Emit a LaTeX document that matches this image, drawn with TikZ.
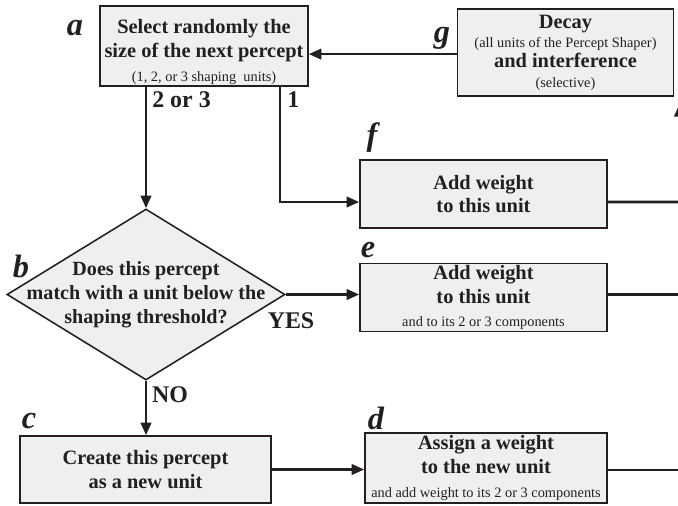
\documentclass[tikz,border=0pt]{standalone}
\usepackage{fontspec}
\setmainfont{Liberation Serif}
\usetikzlibrary{shapes.geometric,arrows.meta,positioning}
\definecolor{boxfill}{RGB}{238,239,241}
\definecolor{ink}{RGB}{35,31,32}
\newcommand{\smalltxt}[1]{{\mdseries\fontsize{10.2}{11}\selectfont #1}}

\begin{document}
\begin{tikzpicture}[x=0.025cm, y=-0.025cm, color=ink,
	box/.style={draw, line width=1.1pt, fill=boxfill, align=center, inner sep=1pt, font=\bfseries\fontsize{14.5}{17}\selectfont},
	decision/.style={diamond, draw, line width=1.1pt, fill=boxfill, align=center, aspect=1.61, inner xsep=-30pt, inner ysep=-5pt, minimum width=6.95cm, minimum height=4.275cm, font=\bfseries\fontsize{14.3}{17}\selectfont},
	letter/.style={font=\bfseries\itshape\fontsize{23}{23}\selectfont, inner sep=0pt},
	tag/.style={font=\bfseries\fontsize{17}{17}\selectfont, inner sep=0pt},
	arr/.style={line width=1.8pt, -{Triangle[length=9pt,width=7.5pt]}},
	wire/.style={line width=1.8pt}]
	\clip (0,0) rectangle (678,506);
	% boxes
	\node[box, minimum width=5.2cm, minimum height=2cm] (a) at (204,46) {\rule{0pt}{18pt}Select randomly the\\size of the next percept\\\smalltxt{(1, 2, or 3 shaping\ \ units)}};
	\node[box, minimum width=5.4cm, minimum height=2.175cm, font=\bfseries\fontsize{14.5}{14}\selectfont] (g) at (565.5,52.5) {Decay\\\smalltxt{(all units of the Percept Shaper)}\\and interference\\\smalltxt{(selective)}};
	\node[box, minimum width=6.175cm, minimum height=1.7cm] (f) at (483.5,194) {Add weight\\to this unit};
	\node[decision] (b) at (146,294.5) {Does this percept\\match with a unit below the\\shaping threshold?};
	\node[box, minimum width=6.175cm, minimum height=1.675cm] (e) at (483.5,297.5) {Add weight\\to this unit\\\smalltxt{and to its 2 or 3 components}};
	\node[box, minimum width=6.275cm, minimum height=1.675cm] (c) at (145.5,469.5) {Create this percept\\as a new unit};
	\node[box, minimum width=6.05cm, minimum height=1.75cm] (d) at (486,468) {Assign a weight\\to the new unit\\\smalltxt{and add weight to its 2 or 3 components}};
	% letters
	\node[letter] (la) at (75,28) {a};
	\node[letter] (lg) at (442,38) {g};
	\node[letter] (lf) at (372,138) {f};
	\node[letter] (lb) at (21,266) {b};
	\node[letter] (le) at (368,250) {e};
	\node[letter] (lc) at (29,421) {c};
	\node[letter] (ld) at (376,418) {d};
	% branch labels
	\node[tag, anchor=west] (t23) at (152,100) {2 or 3};
	\node[tag, anchor=west] (t1) at (287,100) {1};
	\node[tag] (yes) at (291,321) {YES};
	\node[tag] (no) at (170,395) {NO};
	% free ends at the right edge
	\coordinate (fout) at (690,202);
	\coordinate (eout) at (690,294.5);
	\coordinate (dout) at (690,470);
	\coordinate (gin0) at (679.5,130);
	\coordinate (gin1) at (679.5,104);
	% connectors
	\draw[arr] ([yshift=-0.04cm]g.west) -- ([yshift=-0.04cm]g.west -| a.east);
	\draw[arr] (a.south -| b.north) -- (b.north);
	\draw[arr] ([xshift=-0.725cm]a.south east) |- ([yshift=-0.2cm]f.west);
	\draw[arr] (b.east) -- (b.east -| e.west);
	\draw[arr] (b.south) -- (b.south |- c.north);
	\draw[arr] (c.east) -- (c.east -| d.west);
	\draw[wire] ([yshift=-0.2cm]f.east) -- (fout);
	\draw[wire] (e.east |- eout) -- (eout);
	\draw[wire] (d.east |- dout) -- (dout);
	\draw[arr] (gin0) -- (gin1);
\end{tikzpicture}
\end{document}
